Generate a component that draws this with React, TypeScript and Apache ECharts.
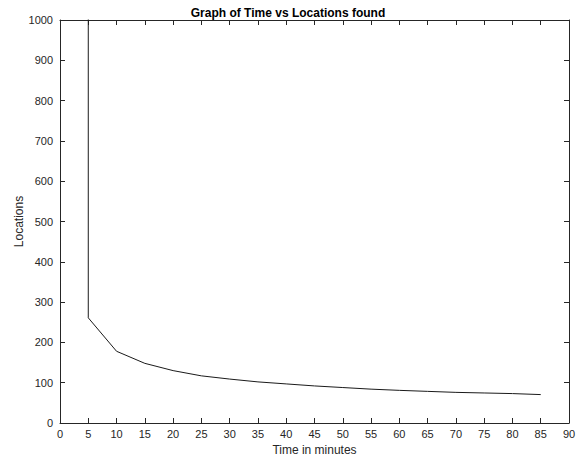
import React, { useEffect, useRef } from "react";
import * as echarts from "echarts";

const timeMinutes = [5, 5, 10, 15, 20, 25, 30, 35, 40, 45, 50, 55, 60, 65, 70, 75, 80, 85];
const locationsFound = [5000, 261, 178, 148, 130, 117, 109, 102, 97, 92, 88, 84, 81, 78.5, 76, 74.5, 73, 70.5];
const titleText = "Graph of Time vs Locations found";
const xName = "Time in minutes";
const yName = "Locations";

export default function App() {
  const ref = useRef<HTMLDivElement>(null);
  useEffect(() => {
    if (!ref.current) return;
    const chart = echarts.init(ref.current, null, { renderer: "svg" });
    const font = "'Liberation Sans', Arial, Helvetica, sans-serif";
    const axisColor = "#262626";
    const common = {
      axisLine: { show: true, onZero: false, lineStyle: { color: axisColor, width: 1 } },
      axisTick: { show: true, inside: true, length: 5, lineStyle: { color: axisColor } },
      splitLine: { show: false },
    };
    const plain = (v: number) => String(v);
    chart.setOption({
      animation: false,
      backgroundColor: "#ffffff",
      textStyle: { fontFamily: font },
      title: {
        text: titleText,
        left: "center",
        top: 2,
        textStyle: { fontFamily: font, fontSize: 12, fontWeight: "bold", color: "#000" },
      },
      grid: { left: 60, right: 7, top: 20, bottom: 33, containLabel: false, outerBoundsMode: "none" },
      xAxis: [
        {
          type: "value",
          min: 0,
          max: 90,
          interval: 5,
          position: "bottom",
          name: xName,
          nameLocation: "middle",
          nameGap: 17,
          nameTextStyle: { fontFamily: font, fontSize: 12, color: axisColor },
          axisLabel: { fontFamily: font, fontSize: 11, color: axisColor, margin: 5, formatter: plain },
          ...common,
        },
        {
          type: "value",
          min: 0,
          max: 90,
          interval: 5,
          position: "top",
          axisLabel: { show: false },
          ...common,
        },
      ],
      yAxis: [
        {
          type: "value",
          min: 0,
          max: 1000,
          interval: 100,
          position: "left",
          name: yName,
          nameLocation: "middle",
          nameGap: 35,
          nameMoveOverlap: false,
          nameRotate: 90,
          nameTextStyle: { fontFamily: font, fontSize: 12, color: axisColor },
          axisLabel: { fontFamily: font, fontSize: 11, color: axisColor, margin: 7, formatter: plain },
          ...common,
        },
        {
          type: "value",
          min: 0,
          max: 1000,
          interval: 100,
          position: "right",
          axisLabel: { show: false },
          ...common,
        },
      ],
      series: [
        {
          type: "line",
          data: timeMinutes.map((t, i) => [t, locationsFound[i]]),
          showSymbol: false,
          symbol: "none",
          clip: true,
          lineStyle: { color: "#1a1a1a", width: 1 },
        },
      ],
    });
    return () => chart.dispose();
  }, []);
  return <div ref={ref} style={{ width: 576, height: 456, position: "absolute", left: 0, top: 0 }} />;
}
